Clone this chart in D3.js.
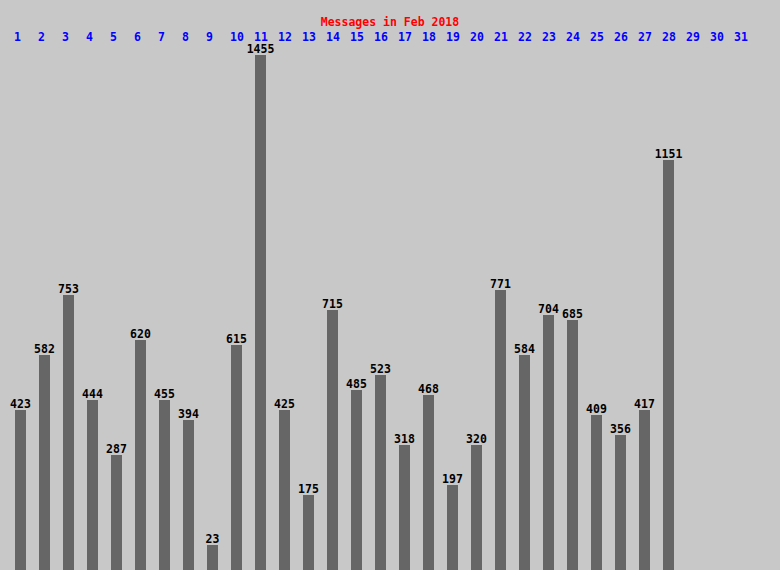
<!DOCTYPE html>
<html><head><meta charset="utf-8">
<script src="https://cdn.jsdelivr.net/npm/d3@7"></script>
<style>
html,body{margin:0;padding:0;background:#c8c8c8;}
svg{display:block;}
text{font-family:"DejaVu Sans Mono","Liberation Mono",monospace;-webkit-font-smoothing:none;}
</style></head>
<body><svg id="chart" width="780" height="570"></svg>
<script>
const title = "Messages in Feb 2018";
const days = d3.range(1, 32);
const dataDays = d3.range(1, 29);
const values = [423,582,753,444,287,620,455,394,23,615,1455,425,175,715,485,523,318,468,197,320,771,584,704,685,409,356,417,1151];

const W = 780, H = 570;
const svg = d3.select("#chart");
svg.append("rect").attr("width", W).attr("height", H).attr("fill", "#c8c8c8");

const x = d3.scaleLinear().domain([1, 31]).range([15, 735]);
const barW = 11;
const base = 555;
const y = d3.scaleLinear().domain([0, d3.max(values)]).range([base, 55]);
const barTop = v => base - Math.round((base - y(v)) / 5) * 5;

svg.append("text").attr("x", 390).attr("y", 26).attr("text-anchor", "middle")
  .attr("fill", "#ff0000").attr("font-size", "11.5px").attr("font-weight", "bold").text(title);

svg.selectAll("text.day").data(days).enter().append("text").attr("class", "day")
  .attr("x", d => x(d) - 1).attr("y", 41)
  .attr("fill", "#0000ff").attr("font-size", "11.5px").attr("font-weight", "bold")
  .text(d => d);

const data = dataDays.map((d, i) => ({day: d, v: values[i]}));

svg.selectAll("rect.bar").data(data).enter().append("rect").attr("class", "bar")
  .attr("x", d => x(d.day)).attr("width", barW)
  .attr("y", d => barTop(d.v)).attr("height", d => H - barTop(d.v))
  .attr("fill", "#666666");

svg.selectAll("text.val").data(data).enter().append("text").attr("class", "val")
  .attr("x", d => x(d.day) + barW / 2).attr("y", d => barTop(d.v) - 2)
  .attr("text-anchor", "middle").attr("fill", "#000").attr("font-size", "11.5px").attr("font-weight", "bold")
  .text(d => d.v);
</script></body></html>
